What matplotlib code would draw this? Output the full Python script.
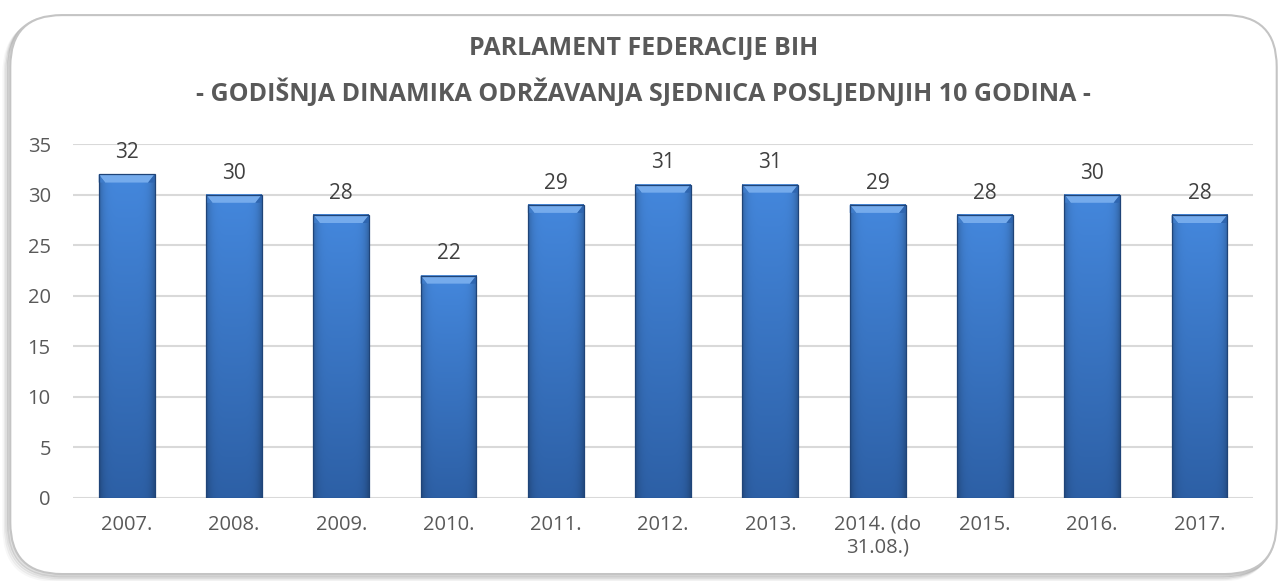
import numpy as np
import matplotlib
matplotlib.use('Agg')
import matplotlib.pyplot as plt
from matplotlib.patches import FancyBboxPatch, Polygon, Rectangle

categories = ['2007.', '2008.', '2009.', '2010.', '2011.', '2012.', '2013.',
              '2014. (do\n31.08.)', '2015.', '2016.', '2017.']
sessions = [32, 30, 28, 22, 29, 31, 31, 29, 28, 30, 28]
y_ticks = [0, 5, 10, 15, 20, 25, 30, 35]

title = 'PARLAMENT FEDERACIJE BIH\n- GODIŠNJA DINAMIKA ODRŽAVANJA SJEDNICA POSLJEDNJIH 10 GODINA -'

plt.rcParams['font.family'] = ['Open Sans', 'DejaVu Sans']

fig = plt.figure(figsize=(12.87, 5.81), dpi=100)

# rounded frame, shadow falls to the left and bottom
frame_kw = dict(boxstyle='round,pad=0,rounding_size=0.04',
                transform=fig.transFigure, mutation_aspect=1287 / 581)
for k, a in enumerate([0.12, 0.08, 0.05, 0.03]):
    off = 0.0012 * (k + 1)
    fig.patches.append(FancyBboxPatch((0.008 - off, 0.012 - off * 2.2), 0.984, 0.962,
                                      fc='none', ec=(0, 0, 0, a), lw=2.5, zorder=-3,
                                      **frame_kw))
fig.patches.append(FancyBboxPatch((0.008, 0.012), 0.984, 0.962,
                                  fc='white', ec='#c4c4c4', lw=1.5, zorder=-2,
                                  **frame_kw))

fig.text(0.5, 0.877, title, ha='center', va='center', fontsize=18,
         fontweight='bold', color='#595959', linespacing=1.75)

ax = fig.add_axes([0.0567, 0.1429, 0.917, 0.609])
ax.set_facecolor('none')
ax.set_yticks(y_ticks)
ax.set_xticks(range(len(categories)))
ax.set_xticklabels(categories)
ax.tick_params(length=0, labelsize=14.5, labelcolor='#595959')
ax.tick_params(axis='y', pad=16)
ax.tick_params(axis='x', pad=12)
for s in ax.spines.values():
    s.set_visible(False)
ax.grid(axis='y', color='#d9d9d9', lw=1.5)
ax.set_axisbelow(True)

# shading texture for the bar face (lighter at top, darker at edges/bottom)
top_c = np.array([0x44, 0x87, 0xdc]) / 255
bot_c = np.array([0x2d, 0x60, 0xa6]) / 255
gy = np.linspace(0, 1, 64)[:, None, None]
gx = np.linspace(-1, 1, 32)[None, :, None]
face = (bot_c + (top_c - bot_c) * gy) * (1 - 0.22 * np.abs(gx) ** 6)
face = np.clip(face, 0, 1)

w = 0.52
bx = 0.06    # bevel width in data units
by = 0.8     # bevel height in data units
for i, v in enumerate(sessions):
    x0, x1 = i - w / 2, i + w / 2
    ax.imshow(face, extent=[x0, x1, 0, v], origin='lower', aspect='auto',
              interpolation='bilinear', zorder=3)
    # top bevel
    ax.add_patch(Polygon([(x0, v), (x1, v), (x1 - bx, v - by), (x0 + bx, v - by)],
                         closed=True, fc='#75abec', ec='none', zorder=4))
    ax.add_patch(Polygon([(x0, v), (x0 + bx, v - by), (x0, v - by)],
                         closed=True, fc='#3f7cc9', ec='none', zorder=4))
    ax.add_patch(Polygon([(x1, v), (x1 - bx, v - by), (x1, v - by)],
                         closed=True, fc='#2f66b0', ec='none', zorder=4))
    ax.add_patch(Rectangle((x0, 0), w, v, fc='none', ec='#1f4478', lw=0.9, zorder=5))
    ax.annotate(str(v), (i, v), xytext=(0, 8), textcoords='offset points',
                ha='center', va='bottom', fontsize=15, color='#404040')

ax.set_xlim(-0.5, len(categories) - 0.5)
ax.set_ylim(0, 35)

fig.savefig('out.png', dpi=100)
